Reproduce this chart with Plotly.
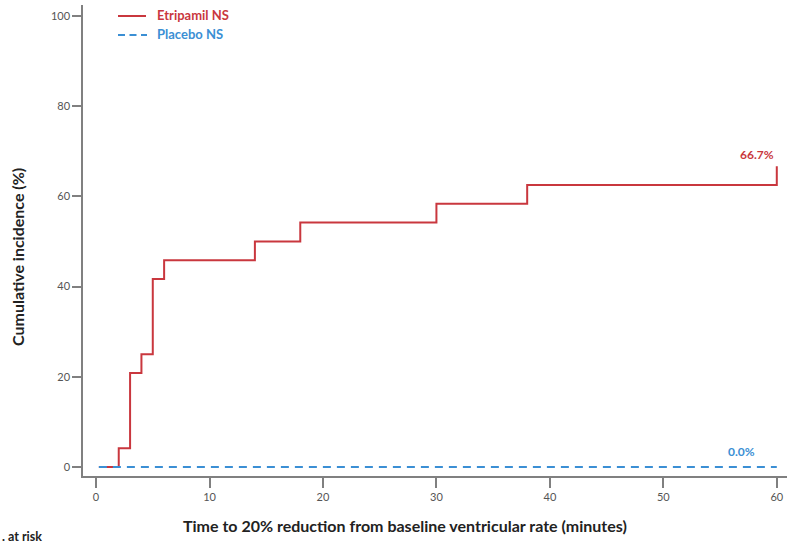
import plotly.graph_objects as go

# Data
etrip_time = [0.25, 2, 3, 4, 5, 6, 14, 18, 30, 38, 60]
etrip_inc = [0, 4.17, 20.83, 25.0, 41.67, 45.83, 50.0, 54.17, 58.33, 62.5, 66.67]
placebo_time = [0.25, 60]
placebo_inc = [0, 0]
x_ticks = [0, 10, 20, 30, 40, 50, 60]
y_ticks = [0, 20, 40, 60, 80, 100]
series_names = ["Etripamil NS", "Placebo NS"]

RED = "#c9373e"
BLUE = "#3b8fd4"
FONT = "Lato, 'Open Sans', sans-serif"

W, H = 787, 543
ML, MR, MT, MB = 83, 0, 5, 67
PW, PH = W - ML - MR, H - MT - MB


def px(xpix):
    return (xpix - ML) / PW


def py(ypix):
    return (H - MB - ypix) / PH


fig = go.Figure()
fig.add_trace(go.Scatter(
    x=etrip_time, y=etrip_inc, mode="lines", line_shape="hv",
    line=dict(color=RED, width=2), name=series_names[0], cliponaxis=False,
))
fig.add_trace(go.Scatter(
    x=placebo_time, y=placebo_inc, mode="lines",
    line=dict(color=BLUE, width=2, dash="8px,6px"), name=series_names[1],
))

# manual legend
shapes = [
    dict(type="line", xref="paper", yref="paper", x0=px(118), x1=px(146),
         y0=py(16), y1=py(16), line=dict(color=RED, width=2)),
    dict(type="line", xref="paper", yref="paper", x0=px(118), x1=px(147),
         y0=py(35), y1=py(35), line=dict(color=BLUE, width=2, dash="7px,4.5px")),
]

fig.update_layout(
    width=W, height=H,
    margin=dict(l=ML, r=MR, t=MT, b=MB, autoexpand=False),
    paper_bgcolor="white", plot_bgcolor="white",
    font=dict(family=FONT, size=11, color="#555"),
    showlegend=False,
    shapes=shapes,
    xaxis=dict(range=[-1.15, 60.9], tickvals=x_ticks, showgrid=False, zeroline=False,
               showline=True, linecolor="#808080", linewidth=1.5,
               ticks="outside", ticklen=10, tickwidth=1.5, tickcolor="#808080",
               tickfont=dict(size=11, color="#555"), automargin=False),
    yaxis=dict(range=[-2, 102.4], tickvals=y_ticks, showgrid=False, zeroline=False,
               showline=True, linecolor="#808080", linewidth=1.5,
               ticks="outside", ticklen=9, tickwidth=1.5, tickcolor="#808080",
               tickfont=dict(size=11, color="#555"), automargin=False),
    annotations=[
        dict(text=f"<b>{series_names[0]}</b>", x=px(155), y=py(15), xref="paper", yref="paper",
             xanchor="left", yanchor="middle", showarrow=False,
             font=dict(color=RED, size=13, family=FONT)),
        dict(text=f"<b>{series_names[1]}</b>", x=px(155), y=py(34), xref="paper", yref="paper",
             xanchor="left", yanchor="middle", showarrow=False,
             font=dict(color=BLUE, size=13, family=FONT)),
        dict(text="<b>66.7%</b>", x=60, y=66.67, xref="x", yref="y",
             xshift=-20, yshift=12, showarrow=False,
             font=dict(color=RED, size=12, family=FONT)),
        dict(text="<b>0.0%</b>", x=56.9, y=0, xref="x", yref="y",
             yshift=15, showarrow=False,
             font=dict(color=BLUE, size=12, family=FONT)),
        dict(text="<b>Time to 20% reduction from baseline ventricular rate (minutes)</b>",
             x=px(405), y=py(525), xref="paper", yref="paper",
             xanchor="center", yanchor="middle", showarrow=False,
             font=dict(color="#222", size=16, family=FONT)),
        dict(text="<b>Cumulative incidence (%)</b>", textangle=-90,
             x=px(17), y=py(257), xref="paper", yref="paper",
             xanchor="center", yanchor="middle", showarrow=False,
             font=dict(color="#222", size=16, family=FONT)),
        dict(text="<b>. at risk</b>",
             x=px(0), y=py(536), xref="paper", yref="paper",
             xanchor="left", yanchor="middle", showarrow=False,
             font=dict(color="#222", size=12.5, family=FONT)),
    ],
)

fig.write_html("out.html", config={"displayModeBar": False},
               post_script="document.body.style.margin='0px';")
